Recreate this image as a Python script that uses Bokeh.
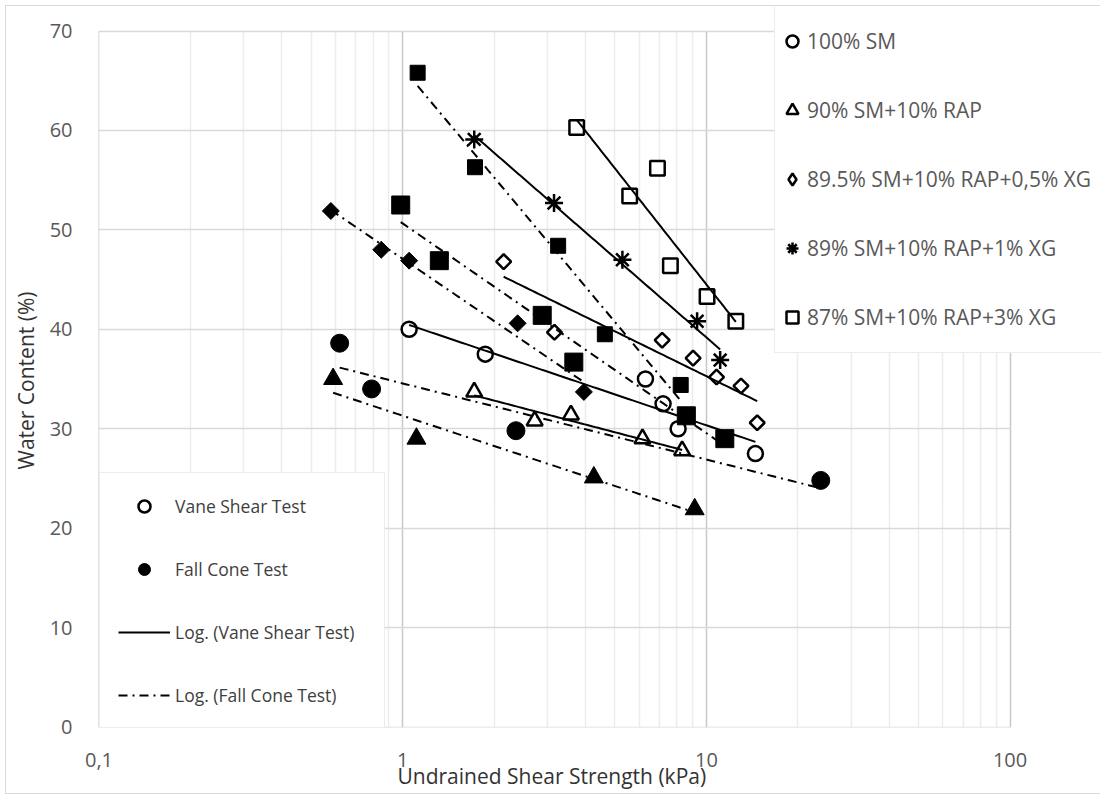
import numpy as np
from bokeh.plotting import figure
from bokeh.models import Range1d, FixedTicker, Legend, LegendItem, Grid, Title
from bokeh.embed import file_html
from bokeh.resources import INLINE

# ---- data: undrained shear strength (kPa) vs water content (%) ----
# Vane shear test (open markers)
sm100_vst_su = [1.05, 1.87, 6.30, 7.20, 8.07, 14.5]
sm100_vst_w = [40.0, 37.5, 35.0, 32.5, 30.0, 27.5]
rap10_vst_su = [1.72, 2.72, 3.58, 6.16, 8.32]
rap10_vst_w = [33.7, 30.8, 31.4, 29.0, 27.8]
xg05_vst_su = [2.15, 3.16, 7.15, 9.04, 10.8, 13.0, 14.7]
xg05_vst_w = [46.8, 39.7, 38.9, 37.1, 35.2, 34.3, 30.6]
xg1_vst_su = [1.72, 3.15, 5.29, 9.32, 11.1]
xg1_vst_w = [59.1, 52.7, 47.0, 40.8, 36.9]
xg3_vst_su = [3.74, 5.59, 6.90, 7.61, 10.05, 12.5]
xg3_vst_w = [60.3, 53.4, 56.2, 46.4, 43.3, 40.8]

# Fall cone test (filled markers)
sm100_fct_su = [0.62, 0.79, 2.36, 23.8]
sm100_fct_w = [38.6, 34.0, 29.8, 24.8]
rap10_fct_su = [0.59, 1.11, 4.26, 9.15]
rap10_fct_w = [35.0, 29.0, 25.1, 21.9]
xg05_fct_su = [0.58, 0.85, 1.05, 2.39, 3.95]
xg05_fct_w = [51.9, 48.0, 46.9, 40.6, 33.7]
xg1_fct_su = [1.12, 1.73, 3.25, 4.63, 8.23]
xg1_fct_w = [65.8, 56.3, 48.4, 39.5, 34.4]
xg3_fct_su = [0.985, 1.32, 2.88, 3.66, 8.59, 11.5]
xg3_fct_w = [52.5, 46.9, 41.4, 36.7, 31.3, 29.0]

mix_labels = ["100% SM", "90% SM+10% RAP", "89.5% SM+10% RAP+0,5% XG",
              "89% SM+10% RAP+1% XG", "87% SM+10% RAP+3% XG"]
x_ticks = [0.1, 1, 10, 100]
x_tick_labels = ["0,1", "1", "10", "100"]
y_ticks = [0, 10, 20, 30, 40, 50, 60, 70]

FONT = "Open Sans"
FC_DASH = "9 5 2 5"

# canvas / frame geometry (px)
W, H = 1095, 789
LEFT, TOP, BOTTOM = 91, 1, 68
DECADE_PX = 304.0          # width of one decade on the x axis
UNIT_PX = 696.0 / 70.0     # px per % water content
frame_w = W - LEFT
frame_h = H - TOP - BOTTOM

# the frame is wider/taller than the gridded area so the mix legend can
# overhang the plot area, as it does in the original figure
x_lo = x_ticks[0] * 10 ** (-0.5 / DECADE_PX)
x_hi = x_ticks[0] * 10 ** ((frame_w - 0.5) / DECADE_PX)
y_lo = y_ticks[0] - 0.5 / UNIT_PX
y_hi = y_ticks[0] + (frame_h - 0.5) / UNIT_PX


def log_trend(su, w, n=80):
    """Excel-style logarithmic trendline w = a*ln(su) + b over the data span."""
    su = np.asarray(su, float)
    a, b = np.polyfit(np.log(su), np.asarray(w, float), 1)
    xs = np.geomspace(su.min(), su.max(), n)
    return xs, a * np.log(xs) + b


p = figure(width=W, height=H, x_axis_type="log",
           x_range=Range1d(x_lo, x_hi), y_range=Range1d(y_lo, y_hi),
           output_backend="svg", toolbar_location=None,
           min_border_left=LEFT, min_border_right=0,
           min_border_top=TOP, min_border_bottom=BOTTOM,
           margin=(5, 0, 0, 5),
           styles={"border-left": "1px solid #d9d9d9",
                   "border-top": "1px solid #d9d9d9",
                   "border-bottom": "1px solid #d9d9d9"})
p.background_fill_color = "white"
p.border_fill_color = "white"
p.outline_line_color = None

# grid, limited to the plot area 0.1-100 kPa / 0-70 %
minor = [m * d for d in (0.1, 1, 10) for m in range(2, 10)]
p.xaxis.ticker = FixedTicker(ticks=x_ticks, minor_ticks=minor)
p.yaxis.ticker = FixedTicker(ticks=y_ticks)
x_span = (x_ticks[0], x_ticks[-1])
y_span = (y_ticks[0], y_ticks[-1])
if "cross_bounds" in Grid.properties():
    p.xgrid.bounds = x_span
    p.xgrid.cross_bounds = y_span
    p.ygrid.bounds = y_span
    p.ygrid.cross_bounds = x_span
    p.xgrid.grid_line_color = "#c8c8c8"
    p.xgrid.grid_line_width = 1.5
    p.xgrid.minor_grid_line_color = "#ececec"
    p.xgrid.minor_grid_line_width = 1.5
    p.ygrid.grid_line_color = "#d9d9d9"
    p.ygrid.grid_line_width = 1.5
else:
    p.xgrid.visible = False
    p.ygrid.visible = False
    p.segment(x0=minor, y0=y_span[0], x1=minor, y1=y_span[1],
              line_color="#ececec", line_width=1.5)
    p.segment(x0=x_ticks, y0=y_span[0], x1=x_ticks, y1=y_span[1],
              line_color="#c8c8c8", line_width=1.5)
    p.segment(x0=x_span[0], y0=y_ticks, x1=x_span[1], y1=y_ticks,
              line_color="#d9d9d9", line_width=1.5)

# axes
p.xaxis.major_label_overrides = {t: s for t, s in zip(x_ticks, x_tick_labels)}
for ax in (p.xaxis[0], p.yaxis[0]):
    ax.axis_line_color = None
    ax.major_tick_line_color = None
    ax.minor_tick_line_color = None
    ax.major_label_text_font = FONT
    ax.major_label_text_font_size = "20px"
    ax.major_label_text_color = "#595959"
p.xaxis.major_label_standoff = 19
p.yaxis.major_label_standoff = 20

# axis titles, centred on the gridded area rather than on the whole frame
TITLE_STYLE = dict(text_font=FONT, text_font_size="21px",
                   text_font_style="normal", text_color="#333333")
p.add_layout(Title(text="Undrained Shear Strength (kPa)", align="left",
                   vertical_align="top", offset=299, standoff=-16,
                   **TITLE_STYLE), "below")
p.add_layout(Title(text="Water Content (%)", align="left",
                   vertical_align="top", offset=258, standoff=10,
                   **TITLE_STYLE), "left")

OPEN = dict(fill_color="white", line_color="black", line_width=2.5)
FILL = dict(fill_color="black", line_color="black", line_width=1)
DIA = np.pi / 4

# markers
v_sm = p.scatter(sm100_vst_su, sm100_vst_w, marker="circle", size=15, **OPEN)
v_rap = p.scatter(rap10_vst_su, rap10_vst_w, marker="triangle", size=16, **OPEN)
p.scatter(xg05_vst_su, xg05_vst_w, marker="square", angle=DIA, size=10.5, **OPEN)
v_x1 = p.scatter(xg1_vst_su, xg1_vst_w, marker="asterisk", size=18,
                 line_color="black", line_width=2.5)
v_x3 = p.scatter(xg3_vst_su, xg3_vst_w, marker="square", size=14.5, **OPEN)
# legend swatch for the 0.5% XG mix (legend glyphs are never rotated)
v_x05_key = p.scatter(xg05_vst_su, xg05_vst_w, marker="diamond", size=15,
                      visible=False, **OPEN)

f_sm = p.scatter(sm100_fct_su, sm100_fct_w, marker="circle", size=18, **FILL)
p.scatter(rap10_fct_su, rap10_fct_w, marker="triangle", size=19, **FILL)
p.scatter(xg05_fct_su, xg05_fct_w, marker="square", angle=DIA, size=12, **FILL)
p.scatter(xg1_fct_su, xg1_fct_w, marker="square", size=15, **FILL)
p.scatter(xg3_fct_su, xg3_fct_w, marker="square", size=18, **FILL)

# logarithmic trendlines
vane_sets = [(sm100_vst_su, sm100_vst_w), (rap10_vst_su, rap10_vst_w),
             (xg05_vst_su, xg05_vst_w), (xg1_vst_su, xg1_vst_w),
             (xg3_vst_su, xg3_vst_w)]
cone_sets = [(sm100_fct_su, sm100_fct_w), (rap10_fct_su, rap10_fct_w),
             (xg05_fct_su, xg05_fct_w), (xg1_fct_su, xg1_fct_w),
             (xg3_fct_su, xg3_fct_w)]
vane_lines = []
for su, w in vane_sets:
    xs, ys = log_trend(su, w)
    vane_lines.append(p.line(xs, ys, line_color="black", line_width=2))
cone_lines = []
for su, w in cone_sets:
    xs, ys = log_trend(su, w)
    cone_lines.append(p.line(xs, ys, line_color="black", line_width=2,
                             line_dash=FC_DASH))

# legend: mixes
mix_legend = Legend(
    items=[LegendItem(label=lab, renderers=[r])
           for lab, r in zip(mix_labels, [v_sm, v_rap, v_x05_key, v_x1, v_x3])],
    location=(676, 374), orientation="vertical",
    glyph_width=30, glyph_height=66, spacing=3, padding=2,
    label_standoff=0, label_width=310,
    label_text_font=FONT, label_text_font_size="21px",
    label_text_color="#595959",
    border_line_color="#d9d9d9", border_line_width=1.5,
    background_fill_color="white", background_fill_alpha=1.0,
    inactive_fill_alpha=0.0)
p.add_layout(mix_legend)

# legend: test methods
test_legend = Legend(
    items=[LegendItem(label="Vane Shear Test", renderers=[v_sm]),
           LegendItem(label="Fall Cone Test", renderers=[f_sm]),
           LegendItem(label="Log. (Vane Shear Test)", renderers=[vane_lines[0]]),
           LegendItem(label="Log. (Fall Cone Test)", renderers=[cone_lines[0]])],
    location=(1, -2), orientation="vertical",
    glyph_width=52, glyph_height=30, spacing=33, padding=18,
    label_standoff=5, label_width=191,
    label_text_font=FONT, label_text_font_size="17.5px",
    label_text_color="#404040",
    border_line_color="#d9d9d9", border_line_width=1.5,
    background_fill_color="white", background_fill_alpha=1.0)
p.add_layout(test_legend)

open("out.html", "w").write(file_html(p, INLINE))
